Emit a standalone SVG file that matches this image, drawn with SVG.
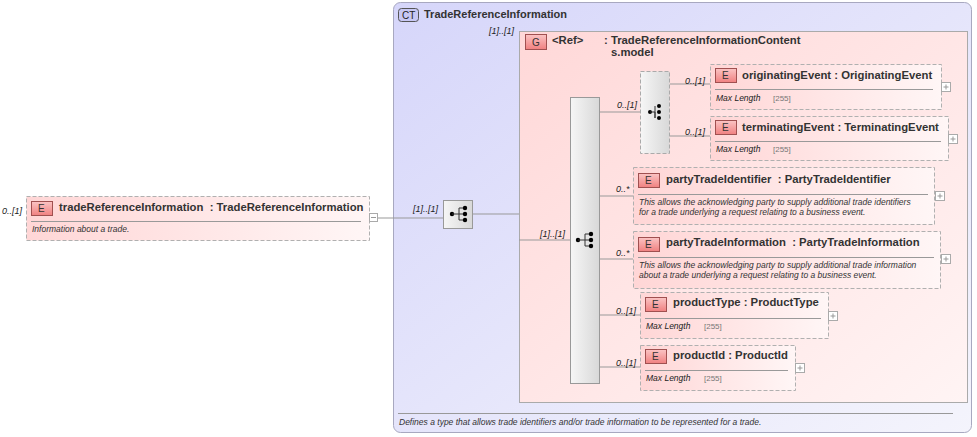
<svg xmlns="http://www.w3.org/2000/svg" width="977" height="437" viewBox="0 0 977 437">
<defs>
<linearGradient id="pk" x1="0" y1="0" x2="1" y2="0"><stop offset="0" stop-color="#ffd6d6"/><stop offset="1" stop-color="#fff6f6"/></linearGradient>
<linearGradient id="pk2" x1="0" y1="0" x2="1" y2="1"><stop offset="0" stop-color="#ffd8d8"/><stop offset="1" stop-color="#fff4f4"/></linearGradient>
<linearGradient id="lv" x1="0" y1="0" x2="1" y2="1"><stop offset="0" stop-color="#d6d6fa"/><stop offset="1" stop-color="#f4f4fc"/></linearGradient>
<linearGradient id="gr" x1="0" y1="0" x2="1" y2="0"><stop offset="0" stop-color="#f6f6f6"/><stop offset="1" stop-color="#d8d8d8"/></linearGradient>
<linearGradient id="eb" x1="0" y1="0" x2="0" y2="1"><stop offset="0" stop-color="#fbc4c4"/><stop offset="1" stop-color="#f08080"/></linearGradient>
<g id="seqi"><circle cx="-7" cy="0" r="2.2"/><path d="M-7 0H0M0 -6V6M0 -6H5M0 0H5M0 6H5" fill="none" stroke="#333"/><circle cx="6" cy="-6" r="2.2"/><circle cx="6" cy="0" r="2.2"/><circle cx="6" cy="6" r="2.2"/></g>
<g id="plus"><rect x="0" y="0" width="9" height="9" fill="#fff" stroke="#aaa"/><path d="M2 4.5H7M4.5 2V7" stroke="#999"/></g>
</defs>
<style>
text{font-family:"Liberation Sans",Arial,sans-serif;fill:#222}
.nm{font-size:11.3px;font-weight:bold;fill:#333}
.it{font-size:8.5px;font-style:italic;fill:#333}
.ml{font-size:8.5px;font-style:italic;fill:#222}
.mv{font-size:8px;fill:#777}
.el{fill:url(#pk);stroke:#b0b0b0;stroke-dasharray:4 2}
.eb{fill:url(#eb);stroke:#a05050}
.ebt{font-size:10px;fill:#333}
.sep{stroke:#999}
.cn{stroke:#999;fill:none}
.ct{font-size:9px;font-style:italic;fill:#222}
</style>
<g id="ct">
<rect x="393.5" y="2.5" width="578" height="430" rx="7" fill="url(#lv)" stroke="#a8a8c0"/>
<rect x="398.5" y="8.5" width="20" height="13" rx="3" fill="#c8c8f4" stroke="#555"/>
<text x="402" y="19" style="font-size:10px">CT</text>
<text x="424" y="18" style="font-size:11px;font-weight:bold;fill:#333">TradeReferenceInformation</text>
<line x1="398" y1="413.5" x2="953" y2="413.5" stroke="#999"/>
<text x="399" y="425" class="it">Defines a type that allows trade identifiers and/or trade information to be represented for a trade.</text>
</g>
<g id="grp">
<rect x="519.5" y="31.5" width="448" height="371" fill="url(#pk2)" stroke="#aaa"/>
<text x="489" y="34" class="ct">[1]..[1]</text>
<rect x="525.5" y="34.5" width="21" height="15" class="eb"/>
<text x="532" y="46" class="ebt">G</text>
<text x="552" y="44" class="nm">&lt;Ref&gt;</text>
<text x="604" y="44" class="nm">: TradeReferenceInformationContent</text>
<text x="611" y="56" class="nm">s.model</text>
</g>
<g id="connectors">
<path class="cn" d="M377 218H443M472 214H519M519 240H570M599 112H640M670 84H710M670 136H710M599 196H633M599 259H633M599 315H640M599 367H640"/>
</g>
<g id="main">
<text x="2" y="214" class="ct">0..[1]</text>
<rect x="26.5" y="196.5" width="343" height="44" class="el"/>
<rect x="31.5" y="201.5" width="21" height="14" class="eb"/>
<text x="38" y="212" class="ebt">E</text>
<text x="59" y="211" class="nm">tradeReferenceInformation&#160; : TradeReferenceInformation</text>
<line x1="31" y1="221.5" x2="361" y2="221.5" class="sep"/>
<text x="32" y="232" class="it">Information about a trade.</text>
<rect x="369.5" y="213.5" width="8" height="8" fill="#fff" stroke="#aaa"/><path d="M371 217.5H376" stroke="#999"/>
</g>
<g id="seq1">
<text x="413" y="212" class="ct">[1]..[1]</text>
<rect x="443.5" y="200.5" width="29" height="28" fill="url(#gr)" stroke="#999"/>
<use href="#seqi" x="459" y="214"/>
</g>
<g id="seq2">
<text x="540" y="237" class="ct">[1]..[1]</text>
<rect x="570.5" y="97.5" width="29" height="286" fill="url(#gr)" stroke="#999"/>
<use href="#seqi" x="585" y="240"/>
</g>
<g id="choice">
<text x="617" y="108" class="ct">0..[1]</text>
<rect x="640.5" y="71.5" width="29" height="82" fill="url(#gr)" stroke="#aaa" stroke-dasharray="4 2"/>
<circle cx="650" cy="112" r="2"/><path d="M650 112H655V118M655 106V118" stroke="#333" fill="none"/><circle cx="659" cy="106" r="2"/><circle cx="659" cy="112" r="2"/><circle cx="659" cy="118" r="2"/>
</g>
<g id="orig">
<text x="685" y="84" class="ct">0..[1]</text>
<rect x="710.5" y="64.5" width="231" height="45" class="el"/>
<rect x="715.5" y="68.5" width="21" height="14" class="eb"/><text x="722" y="79" class="ebt">E</text>
<text x="742" y="79" class="nm">originatingEvent : OriginatingEvent</text>
<line x1="715" y1="89.5" x2="933" y2="89.5" class="sep"/>
<text x="716" y="101" class="ml">Max Length</text><text x="773" y="101" class="mv">[255]</text>
<use href="#plus" x="941.5" y="82.5"/>
</g>
<g id="term">
<text x="685" y="135" class="ct">0..[1]</text>
<rect x="710.5" y="116.5" width="238" height="44" class="el"/>
<rect x="715.5" y="120.5" width="21" height="14" class="eb"/><text x="722" y="131" class="ebt">E</text>
<text x="742" y="131" class="nm">terminatingEvent : TerminatingEvent</text>
<line x1="715" y1="141.5" x2="941" y2="141.5" class="sep"/>
<text x="716" y="152" class="ml">Max Length</text><text x="773" y="152" class="mv">[255]</text>
<use href="#plus" x="948.5" y="134.5"/>
</g>
<g id="pti">
<text x="616" y="192" class="ct">0..*</text>
<rect x="633.5" y="167.5" width="301" height="57" class="el"/>
<rect x="638.5" y="173.5" width="21" height="14" class="eb"/><text x="645" y="184" class="ebt">E</text>
<text x="666" y="183" class="nm">partyTradeIdentifier&#160; : PartyTradeIdentifier</text>
<line x1="638" y1="194.5" x2="928" y2="194.5" class="sep"/>
<text x="639" y="205" class="it">This allows the acknowledging party to supply additional trade identifiers</text>
<text x="639" y="215" class="it">for a trade underlying a request relating to a business event.</text>
<use href="#plus" x="935.5" y="191.5"/>
</g>
<g id="ptinf">
<text x="616" y="256" class="ct">0..*</text>
<rect x="633.5" y="231.5" width="307" height="57" class="el"/>
<rect x="638.5" y="237.5" width="21" height="14" class="eb"/><text x="645" y="248" class="ebt">E</text>
<text x="666" y="246" class="nm">partyTradeInformation&#160; : PartyTradeInformation</text>
<line x1="638" y1="257.5" x2="934" y2="257.5" class="sep"/>
<text x="639" y="268" class="it">This allows the acknowledging party to supply additional trade information</text>
<text x="639" y="278" class="it">about a trade underlying a request relating to a business event.</text>
<use href="#plus" x="941.5" y="254.5"/>
</g>
<g id="ptype">
<text x="616" y="314" class="ct">0..[1]</text>
<rect x="640.5" y="292.5" width="188" height="46" class="el"/>
<rect x="645.5" y="297.5" width="21" height="14" class="eb"/><text x="652" y="308" class="ebt">E</text>
<text x="673" y="306" class="nm">productType : ProductType</text>
<line x1="645" y1="318.5" x2="821" y2="318.5" class="sep"/>
<text x="646" y="329" class="ml">Max Length</text><text x="704" y="329" class="mv">[255]</text>
<use href="#plus" x="828.5" y="311.5"/>
</g>
<g id="pid">
<text x="616" y="366" class="ct">0..[1]</text>
<rect x="640.5" y="345.5" width="155" height="45" class="el"/>
<rect x="645.5" y="349.5" width="21" height="14" class="eb"/><text x="652" y="360" class="ebt">E</text>
<text x="673" y="359" class="nm">productId : ProductId</text>
<line x1="645" y1="370.5" x2="788" y2="370.5" class="sep"/>
<text x="646" y="381" class="ml">Max Length</text><text x="704" y="381" class="mv">[255]</text>
<use href="#plus" x="795.5" y="363.5"/>
</g>
</svg>
